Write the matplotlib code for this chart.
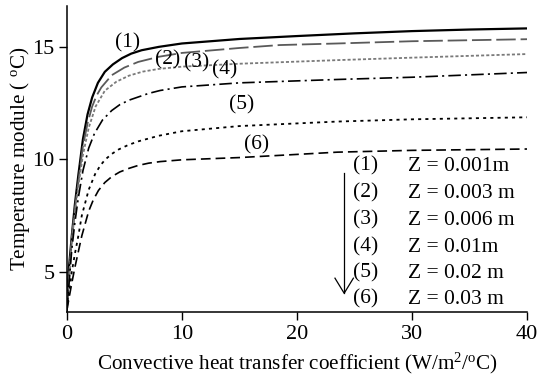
import matplotlib
matplotlib.use("Agg")
import matplotlib.pyplot as plt

plt.rcParams["font.family"] = ["Liberation Serif", "DejaVu Serif"]
plt.rcParams["mathtext.fontset"] = "custom"
plt.rcParams["mathtext.rm"] = "Liberation Serif"
plt.rcParams["mathtext.it"] = "Liberation Serif:italic"
plt.rcParams["lines.scale_dashes"] = False

# convective heat transfer coefficient (W/m2/C) and temperature module (C), read per curve
h1 = [0, 0.15, 0.43, 0.7, 1.0, 1.4, 1.8, 2.2, 2.7, 3.3, 4.0, 4.8, 5.6, 6.5, 8, 10, 15, 20, 25, 30, 35, 40]
t1 = [3.3, 5.0, 6.6, 8.0, 9.3, 10.9, 12.0, 12.75, 13.4, 13.89, 14.22, 14.5, 14.7, 14.85, 15.0, 15.15, 15.35, 15.48, 15.6, 15.7, 15.77, 15.82]
h2 = [0, 0.43, 0.7, 1.0, 1.4, 1.8, 2.2, 2.6, 3.0, 3.9, 5.0, 6.2, 8, 10, 15, 18.5, 23.5, 30, 40]
t2 = [3.3, 6.5, 7.8, 9.0, 10.6, 11.6, 12.35, 12.85, 13.2, 13.74, 14.08, 14.33, 14.56, 14.73, 14.95, 15.08, 15.15, 15.25, 15.34]
h3 = [0, 0.43, 0.7, 1.0, 1.4, 1.9, 2.5, 3.3, 4.3, 5.4, 6.6, 8, 10, 15, 23.5, 30, 40]
t3 = [3.3, 6.4, 7.6, 8.8, 10.2, 11.4, 12.35, 13.05, 13.45, 13.72, 13.9, 14.02, 14.12, 14.25, 14.41, 14.52, 14.68]
h4 = [0, 0.43, 0.7, 1.0, 1.4, 1.9, 2.4, 3.1, 3.9, 4.6, 5.4, 7.1, 8.1, 10, 15, 23.5, 30, 40]
t4 = [3.3, 6.0, 7.2, 8.3, 9.5, 10.5, 11.15, 11.75, 12.17, 12.43, 12.63, 12.93, 13.06, 13.22, 13.4, 13.55, 13.65, 13.86]
h5 = [0, 0.43, 0.7, 1.0, 1.3, 1.9, 2.46, 2.9, 3.33, 3.9, 4.5, 5.3, 6.2, 8, 10, 15, 23.5, 30, 40]
t5 = [3.3, 5.0, 5.8, 6.6, 7.5, 8.65, 9.35, 9.72, 9.99, 10.24, 10.44, 10.63, 10.8, 11.05, 11.25, 11.48, 11.68, 11.78, 11.87]
h6 = [0, 0.43, 0.7, 1.0, 1.3, 1.9, 2.3, 2.75, 3.3, 3.9, 4.6, 5.4, 6.2, 7.1, 8.1, 10, 15, 20, 23.5, 30, 40]
t6 = [3.3, 4.5, 5.2, 5.9, 6.6, 7.7, 8.2, 8.62, 8.97, 9.23, 9.44, 9.6, 9.73, 9.83, 9.9, 9.98, 10.08, 10.22, 10.32, 10.4, 10.46]

curve_ids = ["(1)", "(2)", "(3)", "(4)", "(5)", "(6)"]
depths = ["Z = 0.001m", "Z = 0.003 m", "Z = 0.006 m", "Z = 0.01m", "Z = 0.02 m", "Z = 0.03 m"]

fig = plt.figure(figsize=(5.39, 3.83), dpi=100)
ax = fig.add_axes([0.124, 0.185, 0.854, 0.799])

ax.plot(h1, t1, color="black", lw=1.6)
ax.plot(h2, t2, color="#5a5a5a", lw=1.3, dashes=(14, 3.5))
ax.plot(h3, t3, color="#7a7a7a", lw=1.3, dashes=(2.2, 1.5))
ax.plot(h4, t4, color="black", lw=1.2, dashes=(9, 3, 1.5, 3))
ax.plot(h5, t5, color="black", lw=1.3, dashes=(2.2, 3))
ax.plot(h6, t6, color="black", lw=1.2, dashes=(7, 3.6))

# curve labels
label_pos = [(5.3, 15.16), (8.8, 14.4), (11.3, 14.3), (13.7, 13.98), (15.2, 12.4), (16.5, 10.65)]
for name, (x, y) in zip(curve_ids, label_pos):
    ax.text(x, y, name, fontsize=15.5, ha="center", va="center")

# legend table with arrow
rows = [9.7, 8.5, 7.3, 6.1, 4.94, 3.78]
for name, dep, y in zip(curve_ids, depths, rows):
    ax.text(24.9, y, name, fontsize=15.5, ha="left", va="center")
    ax.text(29.65, y, dep, fontsize=15.5, ha="left", va="center")
ax.plot([24.1, 24.1], [9.39, 4.05], color="black", lw=0.9)
ax.plot([23.3, 24.1, 24.9], [4.72, 4.05, 4.72], color="black", lw=0.9)

ax.set_xlim(0, 40)
ax.set_ylim(3.21, 16.81)
ax.set_xticks([0, 10, 20, 30, 40])
ax.set_yticks([5, 10, 15])
ax.spines["top"].set_visible(False)
ax.spines["right"].set_visible(False)
ax.spines["left"].set_linewidth(1.1)
ax.spines["bottom"].set_linewidth(1.1)
ax.tick_params(direction="out", length=6, width=1.0, labelsize=16, pad=3)

ax.set_xlabel(r"Convective heat transfer coefficient (W/m$^2$/$^{\mathrm{o}}$C)", fontsize=15.2, labelpad=5)
ax.set_ylabel(r"Temperature module ( $^{\mathrm{o}}$C)", fontsize=15.2, labelpad=0)

fig.savefig("out.png", dpi=100)
